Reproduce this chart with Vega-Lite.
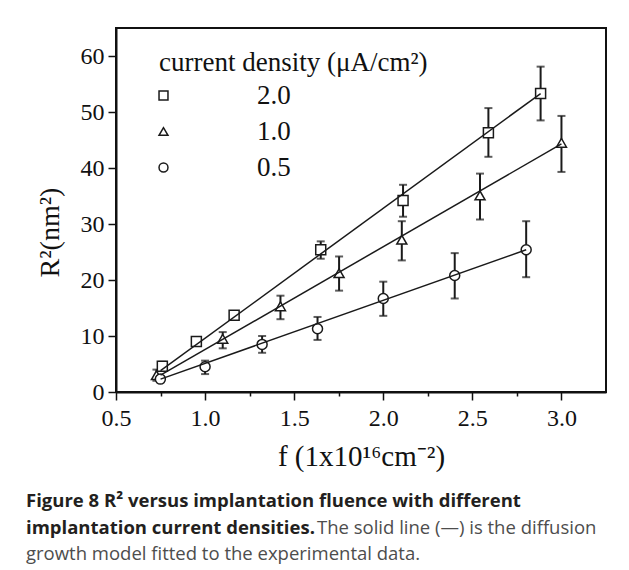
{
  "$schema": "https://vega.github.io/schema/vega-lite/v6.json",
  "padding": {"left": 25, "top": 27, "right": 5, "bottom": 5},
  "config": {
    "font": "Liberation Serif",
    "view": {"stroke": "#111", "strokeWidth": 2},
    "axis": {"domainColor": "#111", "domainWidth": 2, "tickColor": "#111", "tickWidth": 1.5, "labelColor": "#111", "titleColor": "#111", "labelFont": "Liberation Serif", "titleFont": "Liberation Serif", "grid": false, "titleFontWeight": "normal"}
  },
  "datasets": {
    "pts": [
      {"cd": "2.0", "f": 0.76, "R2": 4.6, "lo": 3.8, "hi": 5.4},
      {"cd": "2.0", "f": 0.951, "R2": 9.0, "lo": 8.4, "hi": 9.6},
      {"cd": "2.0", "f": 1.163, "R2": 13.7, "lo": 13.1, "hi": 14.3},
      {"cd": "2.0", "f": 1.649, "R2": 25.4, "lo": 23.8, "hi": 26.9},
      {"cd": "2.0", "f": 2.111, "R2": 34.2, "lo": 31.3, "hi": 37.0},
      {"cd": "2.0", "f": 2.59, "R2": 46.3, "lo": 42.0, "hi": 50.7},
      {"cd": "2.0", "f": 2.883, "R2": 53.3, "lo": 48.5, "hi": 58.1},
      {"cd": "1.0", "f": 0.727, "R2": 3.0, "lo": 2.0, "hi": 4.0},
      {"cd": "1.0", "f": 1.099, "R2": 9.5, "lo": 7.8, "hi": 10.7},
      {"cd": "1.0", "f": 1.423, "R2": 15.3, "lo": 13.0, "hi": 17.2},
      {"cd": "1.0", "f": 1.752, "R2": 21.2, "lo": 18.1, "hi": 24.2},
      {"cd": "1.0", "f": 2.104, "R2": 27.2, "lo": 23.5, "hi": 30.5},
      {"cd": "1.0", "f": 2.543, "R2": 35.1, "lo": 30.8, "hi": 39.0},
      {"cd": "1.0", "f": 3.0, "R2": 44.5, "lo": 39.3, "hi": 49.3},
      {"cd": "0.5", "f": 0.749, "R2": 2.3, "lo": 1.8, "hi": 2.8},
      {"cd": "0.5", "f": 1.0, "R2": 4.5, "lo": 3.2, "hi": 5.6},
      {"cd": "0.5", "f": 1.32, "R2": 8.5, "lo": 7.0, "hi": 10.0},
      {"cd": "0.5", "f": 1.631, "R2": 11.3, "lo": 9.3, "hi": 13.4},
      {"cd": "0.5", "f": 2.0, "R2": 16.7, "lo": 13.6, "hi": 19.7},
      {"cd": "0.5", "f": 2.401, "R2": 20.8, "lo": 16.7, "hi": 24.8},
      {"cd": "0.5", "f": 2.802, "R2": 25.4, "lo": 20.5, "hi": 30.5}
    ],
    "fits": [
      {"cd": "2.0", "f": 0.75, "R2": 3.8},
      {"cd": "2.0", "f": 2.883, "R2": 53.3},
      {"cd": "1.0", "f": 0.75, "R2": 3.0},
      {"cd": "1.0", "f": 3.0, "R2": 44.3},
      {"cd": "0.5", "f": 0.75, "R2": 2.3},
      {"cd": "0.5", "f": 2.802, "R2": 25.4}
    ]
  },
  "title": {
    "text": "The solid line (—) is the diffusion",
    "orient": "bottom", "anchor": "start", "frame": "group",
    "font": "Open Sans", "fontSize": 18.5, "fontWeight": "normal", "color": "#4d4d4d",
    "dx": 201, "dy": -46, "offset": 0
  },
  "vconcat": [
    {
      "width": 490,
      "height": 364,
      "title": {
        "text": ["Figure 8 R² versus implantation fluence with different", "implantation current densities."],
        "subtitle": "growth model fitted to the experimental data.",
        "orient": "bottom", "anchor": "start", "frame": "group",
        "dx": -90, "offset": 21,
        "font": "Open Sans", "fontSize": 18.5, "fontWeight": "bold", "color": "#231f20", "lineHeight": 26.5,
        "subtitleFont": "Open Sans", "subtitleFontSize": 18.5, "subtitleColor": "#4d4d4d", "subtitlePadding": 8
      },
      "layer": [
        {
          "data": {"name": "pts"},
          "mark": {"type": "errorbar", "ticks": {"size": 8, "thickness": 2, "color": "#1a1a1a"}, "rule": {"strokeWidth": 2, "color": "#1a1a1a"}},
          "encoding": {
            "x": {"field": "f", "type": "quantitative", "scale": {"domain": [0.5, 3.25], "nice": false, "zero": false},
              "axis": {"title": "f (1x10¹⁶cm⁻²)", "values": [0.5, 0.75, 1.0, 1.25, 1.5, 1.75, 2.0, 2.25, 2.5, 2.75, 3.0], "format": ".1f",
                "labelExpr": "abs(datum.value*2 - round(datum.value*2)) < 0.01 ? datum.label : ''",
                "tickSize": {"condition": {"test": "abs(datum.value*2 - round(datum.value*2)) < 0.01", "value": 8}, "value": 4},
                "labelFontSize": 24, "labelPadding": 6, "titleFontSize": 29, "titlePadding": 12, "labelOverlap": false, "labelFlush": false}},
            "y": {"field": "lo", "type": "quantitative", "scale": {"domain": [0, 65], "nice": false, "zero": false},
              "axis": {"title": "R²(nm²)", "values": [0, 5, 10, 15, 20, 25, 30, 35, 40, 45, 50, 55, 60], "format": "d",
                "labelExpr": "datum.value % 10 === 0 ? datum.label : ''",
                "tickSize": {"condition": {"test": "datum.value % 10 === 0", "value": 8}, "value": 4},
                "labelFontSize": 24, "labelPadding": 4, "titleFontSize": 28, "titlePadding": 16, "titleY": 204, "labelOverlap": false}},
            "y2": {"field": "hi"}
          }
        },
        {
          "data": {"name": "pts"},
          "mark": {"type": "point", "filled": false, "fill": "white", "fillOpacity": 1, "color": "#1a1a1a", "strokeWidth": 1.5, "size": 100},
          "encoding": {
            "x": {"field": "f", "type": "quantitative", "title": "f (1x10¹⁶cm⁻²)"},
            "y": {"field": "R2", "type": "quantitative", "title": "R²(nm²)"},
            "shape": {"field": "cd", "type": "nominal",
              "scale": {"domain": ["2.0", "1.0", "0.5"], "range": ["square", "triangle-up", "circle"]},
              "legend": {"orient": "none", "legendX": 43, "legendY": 22, "title": "\u00a0\u00a0\u00a0\u00a0current density (μA/cm²)",
                "titleFontSize": 27, "titleFont": "Liberation Serif", "titleFontWeight": "normal", "titleColor": "#111", "titleLimit": 500,
                "labelFontSize": 27, "labelFont": "Liberation Serif", "labelColor": "#111",
                "symbolSize": 80, "symbolStrokeWidth": 1.5, "symbolOffset": -9,
                "labelOffset": 80, "rowPadding": 8, "titlePadding": 5, "padding": 0}}
          }
        },
        {
          "data": {"name": "fits"},
          "mark": {"type": "line", "color": "#1a1a1a", "strokeWidth": 1.5},
          "encoding": {
            "x": {"field": "f", "type": "quantitative", "title": "f (1x10¹⁶cm⁻²)"},
            "y": {"field": "R2", "type": "quantitative", "title": "R²(nm²)"},
            "detail": {"field": "cd", "type": "nominal"}
          }
        }
      ]
    }
  ]
}
